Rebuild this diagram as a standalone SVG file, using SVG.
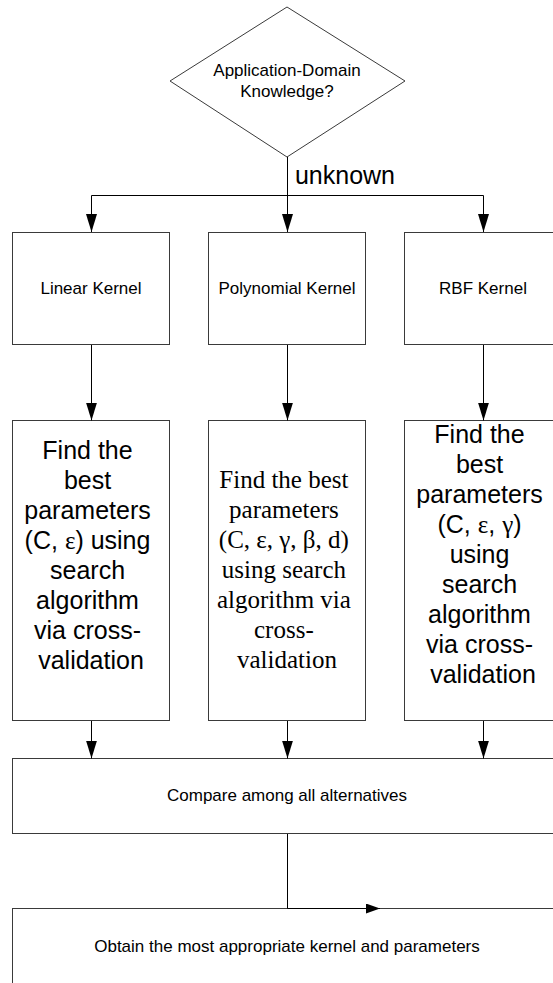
<svg xmlns="http://www.w3.org/2000/svg" width="553" height="983" viewBox="0 0 553 983">
  <style>
    .box { fill: #ffffff; stroke: #3a3a3a; stroke-width: 1; }
    .wire { fill: none; stroke: #000000; stroke-width: 1; }
    .sans { font-family: "Liberation Sans", Arial, sans-serif; fill: #000000; }
    .serif { font-family: "Liberation Serif", "Times New Roman", serif; fill: #000000; }
    .small { font-size: 17px; }
    .big { font-size: 25px; }
    .mid { text-anchor: middle; }
  </style>
  <defs>
    <marker id="arrow" viewBox="0 0 18 11" markerWidth="18" markerHeight="11" refX="18" refY="5.5" orient="auto" markerUnits="userSpaceOnUse">
      <path d="M0,0 L18,5.5 L0,11 Z" fill="#000000"/>
    </marker>
    <marker id="arrowSmall" viewBox="0 0 14 10" markerWidth="14" markerHeight="10" refX="14" refY="5" orient="auto" markerUnits="userSpaceOnUse">
      <path d="M0,0 L14,5 L0,10 Z" fill="#000000"/>
    </marker>
  </defs>

  <rect width="553" height="983" fill="#ffffff"/>

  <!-- decision -->
  <g id="decision">
    <polygon class="box" points="287,7 405,81 287,157 170,81"/>
    <text class="sans small mid" x="287" y="76">Application-Domain</text>
    <text class="sans small mid" x="287" y="97">Knowledge?</text>
  </g>

  <!-- kernel choices -->
  <g id="linear-kernel">
    <rect class="box" x="12.5" y="232.5" width="157" height="112"/>
    <text class="sans small mid" x="91" y="294">Linear Kernel</text>
  </g>
  <g id="polynomial-kernel">
    <rect class="box" x="208.5" y="232.5" width="157" height="112"/>
    <text class="sans small mid" x="287" y="294">Polynomial Kernel</text>
  </g>
  <g id="rbf-kernel">
    <rect class="box" x="404.5" y="232.5" width="157" height="112"/>
    <text class="sans small mid" x="483" y="294">RBF Kernel</text>
  </g>

  <!-- parameter searches -->
  <g id="linear-search">
    <rect class="box" x="12.5" y="420.5" width="157" height="300"/>
    <text class="sans big mid">
      <tspan x="91" y="458.5">Find the</tspan>
      <tspan x="91" y="488.5">best</tspan>
      <tspan x="91" y="518.5">parameters</tspan>
      <tspan x="91" y="548.5">(C, <tspan class="serif">ε</tspan>) using</tspan>
      <tspan x="91" y="578.5">search</tspan>
      <tspan x="91" y="608.5">algorithm</tspan>
      <tspan x="91" y="638.5">via cross-</tspan>
      <tspan x="91" y="668.5">validation</tspan>
    </text>
  </g>
  <g id="polynomial-search">
    <rect class="box" x="208.5" y="420.5" width="157" height="300"/>
    <text class="serif big mid">
      <tspan x="287" y="487.5">Find the best</tspan>
      <tspan x="287" y="517.5">parameters</tspan>
      <tspan x="287" y="547.5">(C, ε, γ, β, d)</tspan>
      <tspan x="287" y="577.5">using search</tspan>
      <tspan x="287" y="607.5">algorithm via</tspan>
      <tspan x="287" y="637.5">cross-</tspan>
      <tspan x="287" y="667.5">validation</tspan>
    </text>
  </g>
  <g id="rbf-search">
    <rect class="box" x="404.5" y="420.5" width="157" height="300"/>
    <text class="sans big mid">
      <tspan x="483" y="442.5">Find the</tspan>
      <tspan x="483" y="472.5">best</tspan>
      <tspan x="483" y="502.5">parameters</tspan>
      <tspan x="483" y="532.5">(C, <tspan class="serif">ε</tspan>, <tspan class="serif">γ</tspan>)</tspan>
      <tspan x="483" y="562.5">using</tspan>
      <tspan x="483" y="592.5">search</tspan>
      <tspan x="483" y="622.5">algorithm</tspan>
      <tspan x="483" y="652.5">via cross-</tspan>
      <tspan x="483" y="682.5">validation</tspan>
    </text>
  </g>

  <!-- comparison and result -->
  <g id="compare">
    <rect class="box" x="12.5" y="758.5" width="549" height="75"/>
    <text class="sans small mid" x="287" y="801">Compare among all alternatives</text>
  </g>
  <g id="result">
    <rect class="box" x="12.5" y="908.5" width="549" height="90"/>
    <text class="sans small mid" x="287" y="952">Obtain the most appropriate kernel and parameters</text>
  </g>

  <!-- connectors -->
  <g id="connectors">
    <line class="wire" x1="287.5" y1="157" x2="287.5" y2="195.5"/>
    <text class="sans mid" x="345" y="184" style="font-size:25px">unknown</text>
    <polyline class="wire" points="91.5,232 91.5,195.5 483.5,195.5 483.5,232" marker-end="url(#arrow)"/>
    <line class="wire" x1="91.5" y1="200" x2="91.5" y2="232" marker-end="url(#arrow)"/>
    <line class="wire" x1="287.5" y1="195" x2="287.5" y2="232" marker-end="url(#arrow)"/>

    <line class="wire" x1="91.5" y1="345" x2="91.5" y2="420.5" marker-end="url(#arrow)"/>
    <line class="wire" x1="287.5" y1="345" x2="287.5" y2="420.5" marker-end="url(#arrow)"/>
    <line class="wire" x1="483.5" y1="345" x2="483.5" y2="420.5" marker-end="url(#arrow)"/>

    <line class="wire" x1="91.5" y1="721" x2="91.5" y2="758.5" marker-end="url(#arrow)"/>
    <line class="wire" x1="287.5" y1="721" x2="287.5" y2="758.5" marker-end="url(#arrow)"/>
    <line class="wire" x1="483.5" y1="721" x2="483.5" y2="758.5" marker-end="url(#arrow)"/>

    <polyline class="wire" points="287.5,834 287.5,908.5 380,908.5" marker-end="url(#arrowSmall)"/>
  </g>
</svg>
